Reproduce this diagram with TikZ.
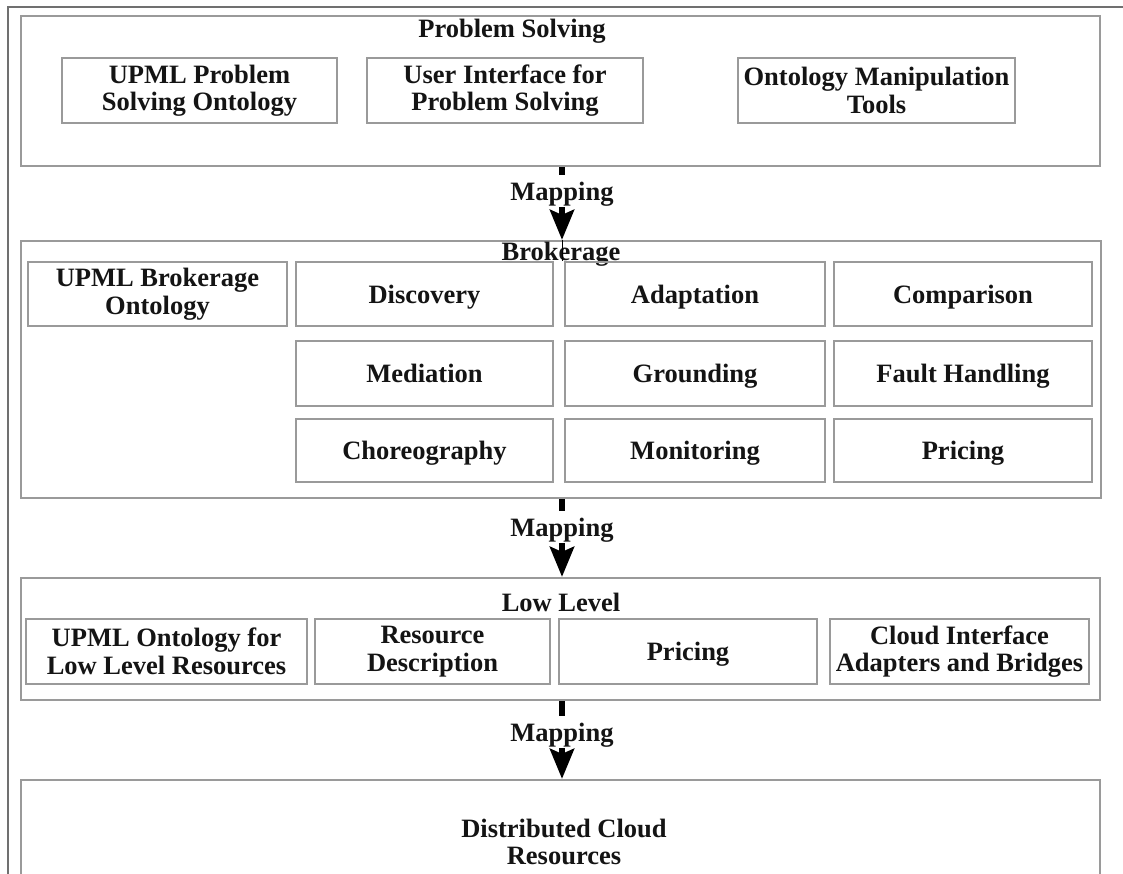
\documentclass[tikz,border=0pt]{standalone}
\usepackage{fontspec}
\setmainfont{Liberation Serif}
\usetikzlibrary{arrows.meta}
\definecolor{boxline}{HTML}{9A9A9A}
\definecolor{frameline}{HTML}{707070}
\definecolor{ink}{HTML}{141414}

\begin{document}
\begin{tikzpicture}[x=1pt,y=-1pt,
  txt/.style={font=\fontsize{26.5}{27.5}\selectfont\bfseries, text=ink, align=center,
              text height=22pt, text depth=4pt},
  multi/.style={text height={}, text depth={}},
  layer/.style 2 args={draw=boxline, line width=2.2pt, inner sep=0pt,
                       minimum width=#1pt, minimum height=#2pt},
  item/.style 2 args={txt, draw=boxline, line width=1.8pt, inner sep=0pt,
                      minimum width=#1pt, minimum height=#2pt},
  title/.style={txt, inner sep=0pt},
  maplabel/.style={txt, fill=white, inner sep=3pt},
  mapline/.style={draw=black, line width=6pt},
  maparrow/.style={mapline, -{Stealth[length=30pt,width=24pt,inset=5pt]}}
]
\clip (0,0) rectangle (1123,873);
\fill[white] (0,0) rectangle (1123,873);

% outer frame (top and left edges)
\draw[frameline, line width=2.6pt] (1130,7) -- (8,7) -- (8,890);

% ---- Problem Solving layer ----
\node[layer={1079}{150}] (ps) at (560.5,91) {};
\node[title] (pst) at (512,28) {Problem Solving};
\node[item={275}{65}, multi] (ps1) at (199.5,90.5) {UPML Problem\\Solving Ontology};
\node[item={276}{65}, multi] (ps2) at (505,90.5) {User Interface for\\Problem Solving};
\node[item={277}{65}, multi] (ps3) at (876.5,90.5) {Ontology Manipulation\\Tools};

% ---- Brokerage layer ----
\node[layer={1080}{257}] (brk) at (561,369.5) {};
\node[title] (brkt) at (561,251) {Brokerage};
\node[item={259}{64}, multi] (bo) at (157.5,294) {UPML Brokerage\\Ontology};
\node[item={257}{64}] (disc) at (424.5,294) {Discovery};
\node[item={260}{64}] (adap) at (695,294) {Adaptation};
\node[item={258}{64}] (comp) at (963,294) {Comparison};
\node[item={257}{65}] (medi) at (424.5,373.5) {Mediation};
\node[item={260}{65}] (grnd) at (695,373.5) {Grounding};
\node[item={258}{65}] (fault) at (963,373.5) {Fault Handling};
\node[item={257}{63}] (chor) at (424.5,450.5) {Choreography};
\node[item={260}{63}] (moni) at (695,450.5) {Monitoring};
\node[item={258}{63}] (pric) at (963,450.5) {Pricing};

% ---- Low Level layer ----
\node[layer={1079}{122}] (ll) at (560.5,639) {};
\node[title] (llt) at (561,602) {Low Level};
\node[item={281}{65}, multi] (ll1) at (166.5,651.5) {UPML Ontology for\\Low Level Resources};
\node[item={235}{65}, multi] (ll2) at (432.5,651.5) {Resource\\Description};
\node[item={258}{65}] (ll3) at (688,651.5) {Pricing};
\node[item={259}{65}, multi] (ll4) at (959.5,651.5) {Cloud Interface\\Adapters and Bridges};

% ---- Distributed Cloud Resources ----
\node[layer={1079}{120}] (dcr) at (560.5,840) {};
\node[title, multi] (dcrt) at (564,842) {Distributed Cloud\\Resources};

% ---- mappings between layers ----
\node[maplabel] (m1) at (562,191) {Mapping};
\draw[mapline] (ps.south -| m1) -- (m1);
\draw[maparrow] (m1) -- (brk.north -| m1);
\draw[black, line width=1pt] (brk.north -| m1) -- (m1 |- disc.north);

\node[maplabel] (m2) at (562,527) {Mapping};
\draw[mapline] (brk.south -| m2) -- (m2);
\draw[maparrow] (m2) -- (ll.north -| m2);

\node[maplabel] (m3) at (562,732) {Mapping};
\draw[mapline] (ll.south -| m3) -- (m3);
\draw[maparrow] (m3) -- (dcr.north -| m3);
\end{tikzpicture}
\end{document}
